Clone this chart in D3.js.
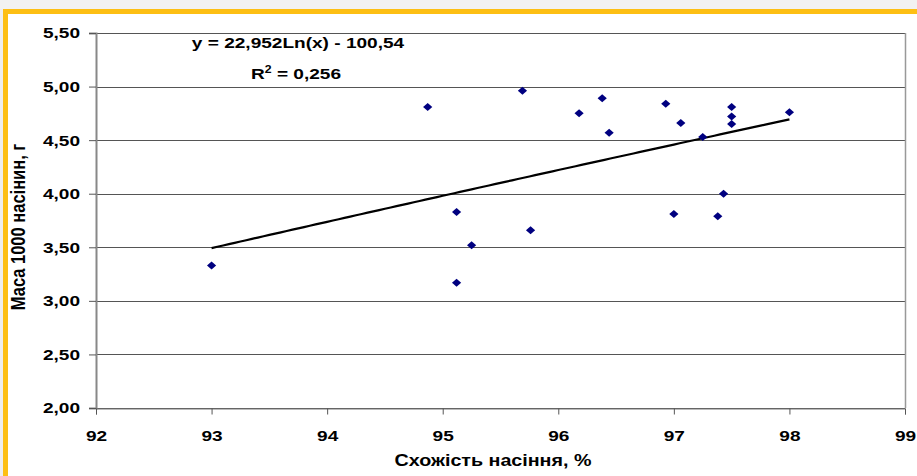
<!DOCTYPE html>
<html>
<head>
<meta charset="utf-8">
<script src="https://cdn.jsdelivr.net/npm/d3@7"></script>
<style>
  body { margin: 0; background: #fff; }
  svg { display: block; font-family: "Liberation Sans", Arial, sans-serif; }
</style>
</head>
<body>
<div id="chart"></div>
<script>
// germination (%) vs mass of 1000 seeds (g)
var germination = [93.0, 94.87, 95.12, 95.12, 95.25, 95.69, 95.76, 96.18, 96.38, 96.44,
                   96.93, 97.0, 97.06, 97.25, 97.43, 97.38, 97.5, 97.5, 97.5, 98.0];
var seedMass = [3.33, 4.81, 3.83, 3.17, 3.52, 4.96, 3.66, 4.75, 4.89, 4.57,
                4.84, 3.81, 4.66, 4.53, 4.00, 3.79, 4.81, 4.72, 4.65, 4.76];
var xTicks = [92, 93, 94, 95, 96, 97, 98, 99];
var yTicks = [2.0, 2.5, 3.0, 3.5, 4.0, 4.5, 5.0, 5.5];
var trendCoef = [22.952, -100.54]; // y = a*ln(x) + b
var trendRange = [93, 98];
var equationLines = ['y = 22,952Ln(x) - 100,54', 'R² = 0,256'];

var W = 917, H = 476;
var margin = { left: 96, right: 12, top: 33, bottom: 68 };
var SX = 1.23; // picture looks stretched horizontally, text too

var svg = d3.select('#chart').append('svg').attr('width', W).attr('height', H);

// frame: grey shadow + yellow border on top and left
svg.append('rect').attr('x', 0).attr('y', 0).attr('width', W).attr('height', 9).style('fill', '#f2f2f2');
svg.append('rect').attr('x', 0).attr('y', 9).attr('width', 3).attr('height', H).style('fill', '#eeeeee');
svg.append('rect').attr('x', 3).attr('y', 9).attr('width', W).attr('height', 5).style('fill', '#fdbf14');
svg.append('rect').attr('x', 3).attr('y', 9).attr('width', 5).attr('height', H).style('fill', '#fdbf14');

var x = d3.scaleLinear().domain([92, 99]).range([margin.left, W - margin.right]);
var y = d3.scaleLinear().domain([2, 5.5]).range([H - margin.bottom, margin.top]);

var fmt = function (d) { return d3.format('.2f')(d).replace('.', ','); };

function stretch(sel) {
  sel.each(function () {
    var t = d3.select(this);
    t.attr('x', (+t.attr('x') || 0) / SX).attr('transform', 'scale(' + SX + ',1)');
  });
}

// gridlines
svg.append('g').selectAll('line').data(yTicks).enter().append('line')
  .attr('x1', x(92)).attr('x2', x(99))
  .attr('y1', function (d) { return Math.round(y(d)) + 0.5; })
  .attr('y2', function (d) { return Math.round(y(d)) + 0.5; })
  .style('stroke', '#555').style('stroke-width', 1);

// right border of plot
svg.append('line').attr('x1', x(99) + 0.5).attr('x2', x(99) + 0.5)
  .attr('y1', y(5.5)).attr('y2', y(2)).style('stroke', '#999').style('stroke-width', 1.5);

// axes
var yAxis = svg.append('g').attr('transform', 'translate(' + margin.left + ',0)')
  .call(d3.axisLeft(y).tickValues(yTicks).tickFormat(fmt).tickSize(7).tickPadding(9));
var xAxis = svg.append('g').attr('transform', 'translate(0,' + (Math.round(y(2)) + 0.5) + ')')
  .call(d3.axisBottom(x).tickValues(xTicks).tickFormat(d3.format('d')).tickSize(6).tickPadding(16));

yAxis.select('.domain').style('stroke', '#888').style('stroke-width', 2);
xAxis.select('.domain').style('stroke', '#777').style('stroke-width', 1);
svg.selectAll('.tick line').style('stroke', '#555');
svg.selectAll('.tick text').style('font-family', '"Liberation Sans", Arial, sans-serif')
  .style('font-size', '15.5px').style('font-weight', 'bold').style('fill', '#000')
  .call(stretch);

// trendline
var trendX = d3.range(trendRange[0], trendRange[1] + 0.001, 0.05);
var line = d3.line()
  .x(function (d) { return x(d); })
  .y(function (d) { return y(trendCoef[0] * Math.log(d) + trendCoef[1]); });
svg.append('path').datum(trendX).attr('d', line)
  .style('fill', 'none').style('stroke', '#000').style('stroke-width', 2.2);

// points
var pts = germination.map(function (g, i) { return [g, seedMass[i]]; });
svg.append('g').selectAll('path').data(pts).enter().append('path')
  .attr('transform', function (d) { return 'translate(' + x(d[0]) + ',' + y(d[1]) + ')'; })
  .attr('d', 'M0,-4L4.6,0L0,4L-4.6,0Z')
  .style('fill', '#000080');

// equation
svg.append('text').attr('x', 298).attr('y', 48).attr('text-anchor', 'middle')
  .style('font-size', '15.5px').style('font-weight', 'bold').text(equationLines[0])
  .call(stretch);
var r2 = svg.append('text').attr('x', 296).attr('y', 79).attr('text-anchor', 'middle')
  .style('font-size', '15.5px').style('font-weight', 'bold');
r2.append('tspan').text('R');
r2.append('tspan').attr('dy', -6).style('font-size', '10px').text('2');
r2.append('tspan').attr('dy', 6).text(' = 0,256');
r2.call(stretch);

// axis titles
svg.append('text').attr('x', 493).attr('y', 466).attr('text-anchor', 'middle')
  .style('font-size', '16px').style('font-weight', 'bold').text('Схожість насіння, %')
  .call(stretch);
svg.append('text').attr('transform', 'translate(25,227) scale(' + SX + ',1) rotate(-90)')
  .attr('text-anchor', 'middle')
  .style('font-size', '16.5px').style('font-weight', 'bold').text('Маса 1000 насінин, г');
</script>
</body>
</html>
